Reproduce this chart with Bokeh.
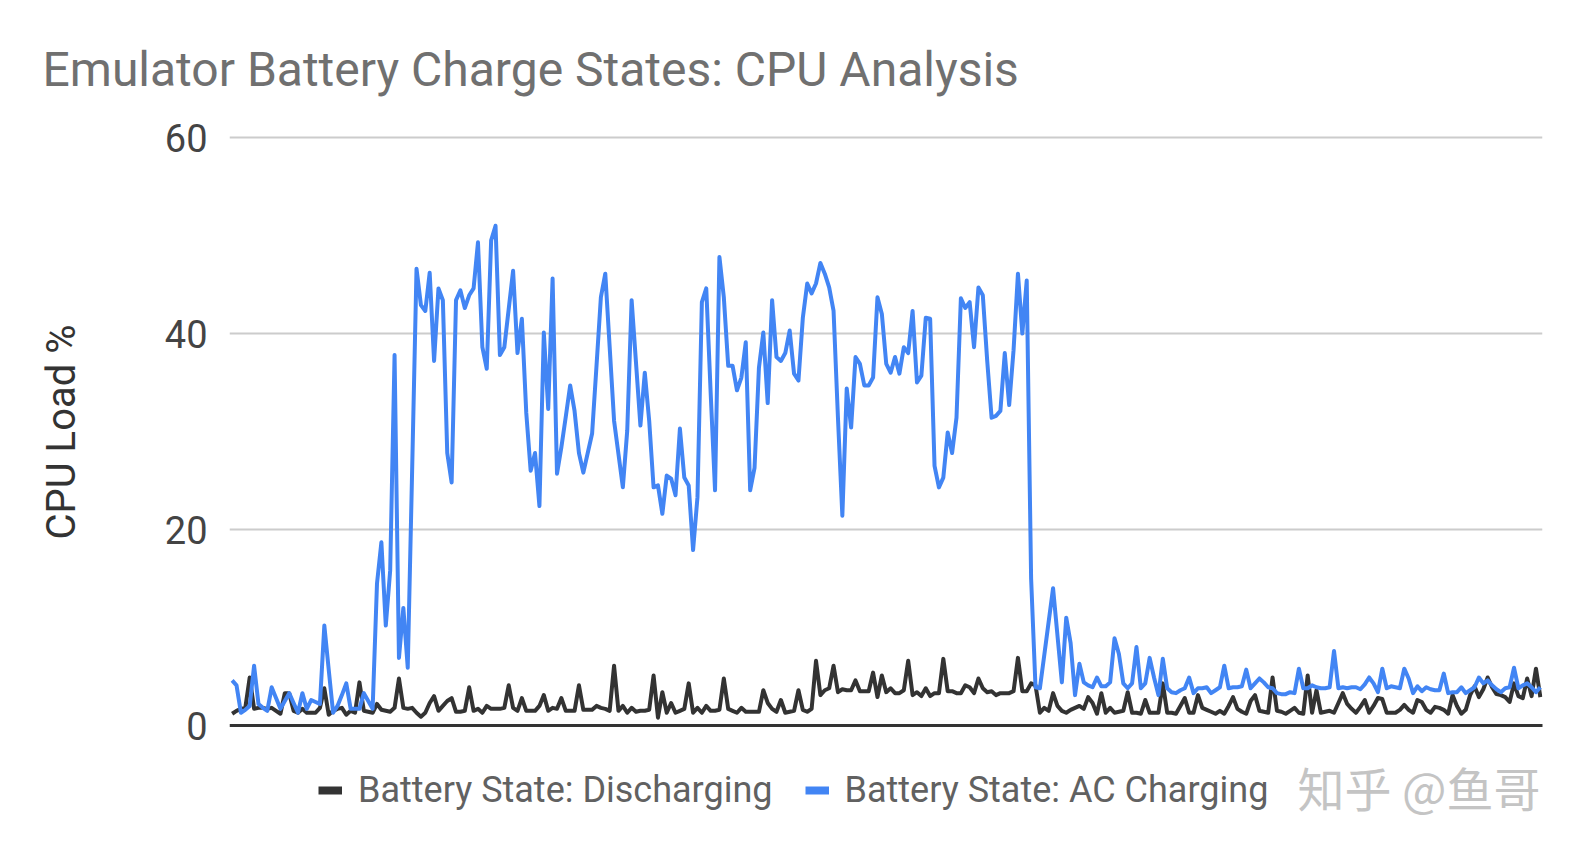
from bokeh.plotting import figure
from bokeh.layouts import column
from bokeh.models import ColumnDataSource, Range1d, FixedTicker, Legend, LegendItem, Label
from bokeh.embed import file_html
from bokeh.resources import INLINE

title_text = "Emulator Battery Charge States: CPU Analysis"
y_label = "CPU Load %"
series_names = ["Battery State: Discharging", "Battery State: AC Charging"]
y_ticks = [0, 20, 40, 60]
watermark = "知乎 @鱼哥"

discharging = [
    1.2, 1.5, 1.7, 1.8, 4.9, 1.7, 1.8, 1.8, 1.7, 1.8,
    1.5, 1.2, 3.3, 3.3, 1.5, 1.3, 1.7, 1.3, 1.3, 1.3,
    1.8, 3.8, 1.1, 1.5, 1.7, 1.8, 1.1, 1.5, 1.3, 4.4,
    1.5, 1.4, 1.3, 2.2, 1.6, 1.5, 1.4, 1.8, 4.8, 1.8,
    1.7, 1.8, 1.3, 0.9, 1.3, 2.3, 3.0, 1.5, 2.0, 2.5,
    2.8, 1.4, 1.4, 1.5, 3.9, 1.5, 1.7, 1.3, 2.0, 1.7,
    1.7, 1.7, 1.8, 4.1, 1.8, 1.5, 2.8, 1.5, 1.5, 1.5,
    2.0, 3.1, 1.5, 1.8, 1.7, 2.8, 1.5, 1.5, 1.5, 4.1,
    1.6, 1.6, 1.6, 2.0, 1.8, 1.7, 1.5, 6.1, 1.5, 2.0,
    1.3, 1.8, 1.4, 1.5, 1.5, 1.6, 5.1, 0.8, 3.4, 1.3,
    2.3, 1.3, 1.5, 1.7, 4.3, 1.3, 1.8, 1.3, 2.0, 1.5,
    1.5, 1.6, 4.8, 1.7, 1.5, 1.3, 1.8, 1.4, 1.4, 1.4,
    1.4, 3.6, 2.3, 1.7, 1.4, 2.6, 1.3, 1.4, 1.5, 3.6,
    1.6, 1.4, 1.7, 6.6, 3.1, 3.6, 3.8, 6.1, 3.4, 3.7,
    3.6, 3.6, 4.6, 3.5, 3.5, 3.5, 5.4, 2.9, 5.1, 3.4,
    3.8, 3.3, 3.3, 3.6, 6.6, 3.1, 3.4, 3.0, 3.8, 3.0,
    3.3, 3.3, 6.8, 3.5, 3.5, 3.3, 3.3, 4.1, 3.9, 3.3,
    4.8, 3.8, 3.4, 3.5, 3.1, 3.3, 3.3, 3.3, 3.5, 6.9,
    3.5, 3.5, 4.3, 4.1, 1.3, 1.8, 1.5, 3.3, 2.0, 1.5,
    1.3, 1.6, 1.8, 2.0, 1.7, 2.9, 2.3, 1.2, 3.3, 1.3,
    1.8, 1.3, 1.4, 1.5, 3.4, 1.3, 1.3, 1.2, 2.6, 1.3,
    1.3, 1.3, 4.3, 1.3, 1.3, 1.2, 2.0, 2.8, 1.3, 1.3,
    3.1, 1.8, 1.6, 1.4, 1.2, 1.5, 1.2, 2.0, 2.9, 1.7,
    1.4, 1.2, 2.5, 3.1, 1.5, 1.4, 1.3, 4.9, 1.5, 1.4,
    1.2, 1.5, 1.8, 1.3, 1.2, 5.1, 1.3, 3.6, 1.3, 1.4,
    1.5, 1.3, 2.3, 3.3, 2.2, 1.7, 1.3, 1.9, 2.6, 1.3,
    2.0, 2.8, 2.7, 1.3, 1.3, 1.3, 1.6, 2.1, 1.6, 1.3,
    2.6, 2.4, 1.6, 1.3, 1.9, 1.8, 1.6, 1.2, 3.1, 2.0,
    1.2, 1.6, 3.1, 4.0, 2.9, 3.7, 4.9, 3.9, 3.2, 3.1,
    2.9, 2.4, 4.3, 3.0, 2.8, 4.8, 3.0, 5.8, 2.9,
]

ac_charging = [
    4.6, 4.1, 1.3, 1.6, 2.0, 6.1, 2.2, 1.8, 1.5, 3.9,
    2.8, 1.7, 2.5, 3.3, 2.3, 1.3, 3.3, 1.7, 2.6, 2.4,
    2.2, 10.2, 5.7, 1.3, 2.0, 3.1, 4.3, 1.7, 1.7, 1.7,
    3.3, 2.5, 1.7, 14.5, 18.7, 10.2, 15.8, 37.8, 6.9, 12.0,
    5.9, 26.0, 46.6, 42.9, 42.3, 46.2, 37.2, 44.6, 43.4, 27.8,
    24.8, 43.4, 44.4, 42.6, 43.9, 44.6, 49.3, 38.6, 36.4, 49.5,
    51.0, 37.8, 38.6, 42.5, 46.4, 38.0, 41.5, 31.9, 26.0, 27.8,
    22.4, 40.1, 32.3, 45.6, 25.7, 28.4, 31.5, 34.7, 32.1, 27.8,
    25.8, 27.8, 29.8, 36.7, 43.7, 46.1, 38.6, 31.1, 27.7, 24.3,
    30.1, 43.4, 37.0, 30.6, 36.0, 31.1, 24.3, 24.5, 21.6, 25.5,
    25.2, 23.5, 30.3, 25.3, 24.5, 17.9, 23.3, 43.2, 44.6, 34.0,
    24.0, 47.8, 43.7, 36.7, 36.7, 34.2, 35.5, 39.1, 24.0, 26.3,
    36.5, 40.1, 32.9, 43.4, 37.6, 37.2, 38.0, 40.3, 35.9, 35.2,
    41.6, 45.1, 44.1, 45.1, 47.2, 46.1, 44.7, 42.3, 31.4, 21.4,
    34.4, 30.4, 37.6, 36.9, 34.7, 34.7, 35.5, 43.7, 42.0, 36.9,
    36.0, 37.6, 35.9, 38.6, 38.0, 42.3, 35.0, 35.7, 41.6, 41.5,
    26.5, 24.3, 25.3, 29.9, 27.8, 31.4, 43.6, 42.6, 43.2, 38.6,
    44.7, 43.9, 37.2, 31.4, 31.6, 32.1, 38.0, 32.7, 38.3, 46.1,
    40.0, 45.4, 15.0, 3.9, 3.8, 7.2, 10.6, 14.0, 9.2, 4.4,
    11.0, 8.4, 3.1, 6.3, 4.4, 4.1, 3.9, 4.9, 4.0, 4.0,
    4.4, 8.9, 7.3, 4.3, 3.8, 4.3, 8.0, 3.8, 4.3, 6.9,
    4.9, 3.1, 6.8, 3.8, 3.4, 3.3, 3.6, 3.8, 4.9, 3.3,
    3.8, 3.8, 3.9, 3.3, 3.6, 3.9, 6.1, 3.8, 3.9, 3.9,
    4.0, 5.7, 3.8, 4.3, 4.8, 4.4, 3.9, 3.8, 3.3, 3.2,
    3.2, 3.4, 3.3, 5.8, 3.8, 3.8, 4.1, 3.9, 3.8, 3.8,
    3.9, 7.6, 3.8, 3.9, 3.8, 3.9, 3.9, 3.7, 4.2, 4.9,
    4.3, 3.4, 5.8, 3.8, 4.0, 3.9, 3.8, 5.8, 4.8, 3.3,
    4.0, 3.5, 3.9, 3.7, 3.6, 3.6, 5.3, 3.3, 3.4, 3.4,
    3.9, 3.3, 3.6, 3.9, 4.9, 4.3, 4.6, 4.1, 3.7, 3.4,
    3.8, 3.9, 5.9, 3.8, 4.1, 4.3, 3.9, 3.4, 3.9,
]

sample = list(range(len(discharging)))

DARK = "#333333"
BLUE = "#4285F4"
FONT = "Roboto"

W = 1569
H_TOTAL = 835
FRAME_LEFT, FRAME_TOP = 229, 135
FRAME_RIGHT = 1542
FRAME_BOTTOM = 728   # just below the 0 line; y-axis title centres on the frame
H_CHART = 748        # extra room below the frame so the "0" tick label is not cut
H_LEGEND = H_TOTAL - H_CHART
PX_PER_X = 4.39      # pixels per sample
PX_PER_Y = 9.8       # pixels per % load
ZERO_Y = 725         # pixel row of the 0 line

x_start = -0.6
x_end = x_start + (FRAME_RIGHT - FRAME_LEFT) / PX_PER_X
y_end = 60 + (ZERO_Y - 60 * PX_PER_Y - FRAME_TOP) / PX_PER_Y
y_start = -(FRAME_BOTTOM - ZERO_Y) / PX_PER_Y

source = ColumnDataSource(data=dict(sample=sample, discharging=discharging, ac=ac_charging))

p = figure(width=W, height=H_CHART, output_backend="svg", toolbar_location=None,
           x_range=Range1d(x_start, x_end), y_range=Range1d(y_start, y_end),
           x_axis_location=None,
           min_border_left=FRAME_LEFT, min_border_right=W - FRAME_RIGHT,
           min_border_top=FRAME_TOP, min_border_bottom=H_CHART - FRAME_BOTTOM)
p.outline_line_color = None
p.background_fill_color = "white"
p.border_fill_color = "white"

# title
p.title.text = title_text
p.title.text_font = FONT
p.title.text_font_size = "48px"
p.title.text_font_style = "normal"
p.title.text_color = "#707070"
p.title.align = "left"
p.title.offset = -187
p.title.standoff = 76

# axis and grid
p.xgrid.visible = False
p.ygrid.ticker = FixedTicker(ticks=y_ticks[1:])
p.ygrid.grid_line_color = "#cccccc"
p.ygrid.grid_line_width = 2

ax = p.yaxis[0]
ax.ticker = FixedTicker(ticks=y_ticks)
ax.axis_line_color = None
ax.major_tick_line_color = None
ax.minor_tick_line_color = None
ax.major_tick_out = 0
ax.major_tick_in = 0
ax.major_label_standoff = 22
ax.major_label_text_font = FONT
ax.major_label_text_font_size = "38px"
ax.major_label_text_color = "#444444"
ax.axis_label = y_label
ax.axis_label_text_font = FONT
ax.axis_label_text_font_size = "40px"
ax.axis_label_text_font_style = "normal"
ax.axis_label_text_color = "#333333"
ax.axis_label_standoff = 77

# lines
p.line("sample", "discharging", source=source, line_color=DARK, line_width=4, line_join="round")
p.line("sample", "ac", source=source, line_color=BLUE, line_width=4, line_join="round")

# baseline at 0
x0 = sample[0] + x_start
x1 = sample[-1] - x_start
p.segment(x0=[x0], y0=[0], x1=[x1], y1=[0], line_color=DARK, line_width=3)

# ---- legend strip (its frame is aligned with the chart frame by the column layout) ----
q = figure(width=W, height=H_LEGEND, output_backend="svg", toolbar_location=None,
           x_range=Range1d(0, 1), y_range=Range1d(0, 1),
           x_axis_location=None, y_axis_location=None,
           min_border_left=FRAME_LEFT, min_border_right=W - FRAME_RIGHT,
           min_border_top=0, min_border_bottom=0)
q.outline_line_color = None
q.grid.visible = False
q.background_fill_color = "white"
q.border_fill_color = "white"

nan = float("nan")
leg1 = q.line(x=[nan], y=[nan], line_color=DARK, line_width=8)
leg2 = q.line(x=[nan], y=[nan], line_color=BLUE, line_width=8)
legend = Legend(items=[LegendItem(label=series_names[0], renderers=[leg1]),
                       LegendItem(label=series_names[1], renderers=[leg2])],
                orientation="horizontal", location=(89, 20),
                label_text_font=FONT, label_text_font_size="36px", label_text_color="#616161",
                glyph_width=24, glyph_height=50, label_height=50, label_standoff=16, spacing=32,
                padding=0, margin=0, border_line_color=None, background_fill_alpha=0)
q.add_layout(legend)

q.add_layout(Label(x=1068, y=H_TOTAL - 786, x_units="screen", y_units="screen",
                   text=watermark, text_font="Noto Sans CJK SC", text_font_size="47px",
                   text_color="#c4c4c4", text_baseline="middle"))

layout = column(p, q, spacing=0)
open("out.html", "w").write(file_html(layout, INLINE))
